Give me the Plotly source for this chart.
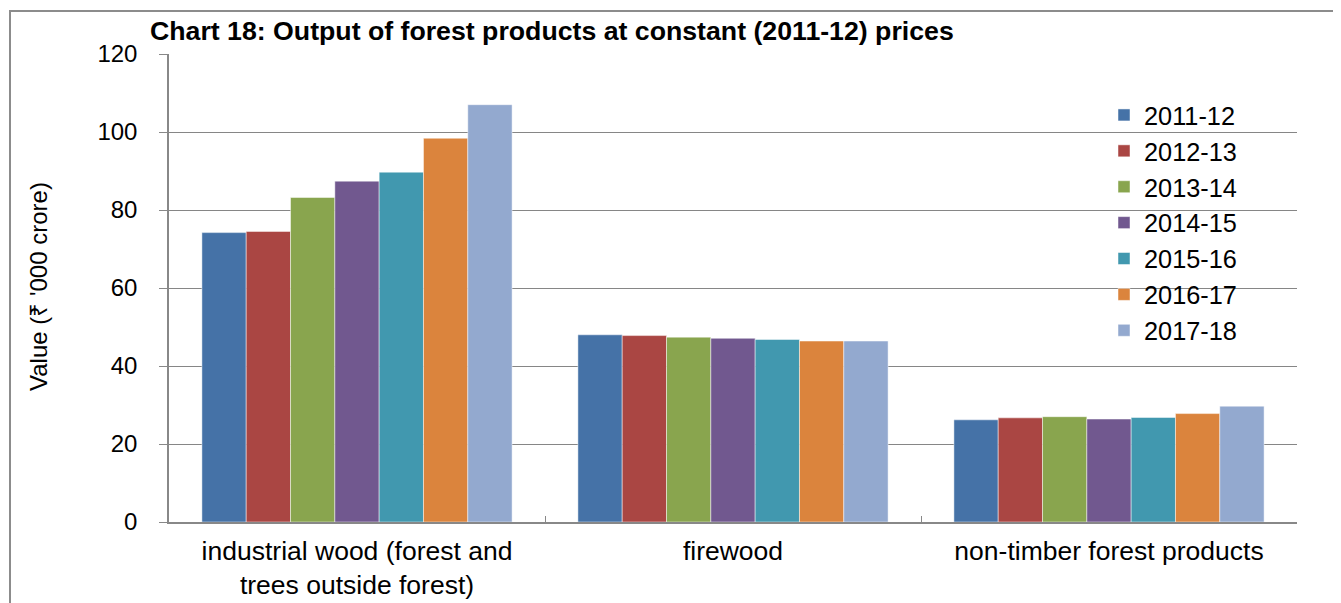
import plotly.graph_objects as go

categories = ["industrial wood (forest and<br>trees outside forest)", "firewood", "non-timber forest products"]
years = ["2011-12", "2012-13", "2013-14", "2014-15", "2015-16", "2016-17", "2017-18"]
v_2011_12 = [74.2, 48.0, 26.2]
v_2012_13 = [74.5, 47.8, 26.7]
v_2013_14 = [83.2, 47.4, 27.0]
v_2014_15 = [87.4, 47.1, 26.4]
v_2015_16 = [89.7, 46.8, 26.8]
v_2016_17 = [98.4, 46.4, 27.8]
v_2017_18 = [107.0, 46.4, 29.7]
series = [v_2011_12, v_2012_13, v_2013_14, v_2014_15, v_2015_16, v_2016_17, v_2017_18]
colors = ["#4572A7", "#AA4643", "#89A54E", "#71588F", "#4198AF", "#DB843D", "#93A9CF"]

FONT = "Arial, Liberation Sans, sans-serif"

fig = go.Figure()
for name, vals, c in zip(years, series, colors):
    fig.add_trace(go.Bar(
        x=categories, y=vals, name=name,
        marker=dict(color=c, line=dict(color="rgba(255,255,255,0.6)", width=0.8)),
    ))

OFF = 8  # page body margin
W, H = 1341, 603
# page-pixel targets
PL, PR, PT, PB = 169, 1297, 54, 522
L = PL - OFF
T = PT - OFF
R = W - (PR - OFF)
B = H - (PB - OFF)
pw, ph = W - L - R, H - T - B

def px_to_paper_x(px):
    return (px - OFF - L) / pw

def px_to_paper_y(py):
    return (H - B - (py - OFF)) / ph

fig.update_layout(
    width=W, height=H,
    margin=dict(l=L, r=R, t=T, b=B, autoexpand=False),
    paper_bgcolor="white", plot_bgcolor="white",
    barmode="group", bargap=0.175, bargroupgap=0,
    font=dict(family=FONT, size=24, color="black"),
    title=dict(
        text="<b>Chart 18: Output of forest products at constant (2011-12) prices</b>",
        x=(150 - OFF) / W, xref="container", xanchor="left",
        y=1 - (31 - OFF) / H, yref="container", yanchor="middle",
        font=dict(family=FONT, size=26.7, color="black"),
    ),
    legend=dict(
        x=px_to_paper_x(1104), y=px_to_paper_y(92), xanchor="left", yanchor="top",
        font=dict(family=FONT, size=25.3, color="black"),
        bgcolor="rgba(0,0,0,0)", itemclick=False,
    ),
    xaxis=dict(
        showline=True, linecolor="#888888", linewidth=1.5,
        ticks="inside", tickson="boundaries", ticklen=6, tickcolor="#888888",
        tickfont=dict(family=FONT, size=26.5, color="black"),
        ticklabelstandoff=4,
        showgrid=False,
    ),
    yaxis=dict(
        range=[0, 120], dtick=20,
        showline=True, linecolor="#888888", linewidth=1.5,
        ticks="outside", ticklen=8, tickcolor="#888888",
        gridcolor="#868686", gridwidth=1.4,
        tickfont=dict(family=FONT, size=24, color="black"),
        ticklabelstandoff=17,
        zeroline=False,
    ),
    annotations=[dict(
        text="Value (₹ '000 crore)", textangle=-90,
        xref="paper", yref="paper",
        x=px_to_paper_x(38), y=px_to_paper_y(287),
        xanchor="center", yanchor="middle", showarrow=False,
        font=dict(family=FONT, size=24, color="black"),
    )],
    shapes=[dict(
        type="rect", xref="paper", yref="paper",
        x0=px_to_paper_x(10), x1=px_to_paper_x(1335),
        y0=px_to_paper_y(640), y1=px_to_paper_y(11),
        line=dict(color="#8c8c8c", width=2), fillcolor="rgba(0,0,0,0)", layer="above",
    )],
)

fig.write_html("out.html")
